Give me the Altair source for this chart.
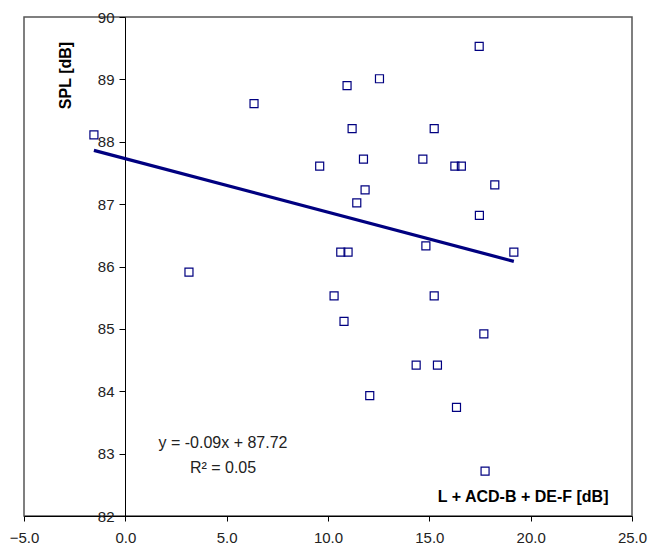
import altair as alt
import pandas as pd

x_vals = [-1.55, 6.35, 3.14, 9.59, 17.46, 12.54, 10.94, 11.19, 15.24, 11.75,
          14.68, 16.26, 16.58, 18.23, 11.83, 11.42, 17.47, 10.63, 10.99, 14.83,
          19.17, 10.30, 15.24, 10.79, 17.69, 14.35, 15.40, 12.06, 16.34, 17.75]
y_vals = [88.11, 88.61, 85.91, 87.61, 89.53, 89.01, 88.90, 88.21, 88.21, 87.72,
          87.72, 87.61, 87.61, 87.31, 87.23, 87.02, 86.82, 86.23, 86.23, 86.33,
          86.23, 85.53, 85.53, 85.12, 84.92, 84.42, 84.42, 83.93, 83.74, 82.72]

eq_text = ["y = -0.09x  + 87.72", "R² = 0.05"]
eq_x = [4.82, 4.82]
eq_y = [83.17, 82.77]

df = pd.DataFrame({"x": x_vals, "y": y_vals})
eq_df = pd.DataFrame({"t": eq_text, "x": eq_x, "y": eq_y})

FONT = "Liberation Sans"
NAVY = "#000080"

xscale = alt.Scale(domain=[-5, 25], nice=False, zero=False)
yscale = alt.Scale(domain=[82, 90], nice=False, zero=False)

xaxis = alt.Axis(values=[-5, 0, 5, 10, 15, 20, 25], format=".1f",
                 title="L + ACD-B + DE-F [dB]", titleFont=FONT, titleFontSize=16,
                 titleFontWeight="bold", titleColor="black",
                 titleX=584, titleY=-20, titleAlign="right", titleBaseline="middle",
                 labelFont=FONT, labelFontSize=15, labelColor="#222222",
                 labelPadding=9, tickSize=5, tickColor="black", domainColor="black",
                 grid=False, labelFlush=False, labelOverlap=False)
yaxis = alt.Axis(values=[82, 83, 84, 85, 86, 87, 88, 89, 90], format="d",
                 offset=-101,
                 title="SPL [dB]", titleFont=FONT, titleFontSize=16,
                 titleFontWeight="bold", titleColor="black",
                 titleX=-60, titleY=58, titleAlign="center", titleBaseline="middle",
                 labelFont=FONT, labelFontSize=15, labelColor="#222222",
                 labelPadding=5, tickSize=6, tickColor="black", domainColor="black",
                 grid=False, labelFlush=False, labelOverlap=False)

points = alt.Chart(df).mark_point(shape="square", filled=False, size=64,
                                  color=NAVY, strokeWidth=1.2, opacity=1).encode(
    x=alt.X("x:Q", scale=xscale, axis=xaxis),
    y=alt.Y("y:Q", scale=yscale, axis=yaxis),
)

trend = alt.Chart(df).transform_regression("x", "y").mark_line(
    color=NAVY, strokeWidth=3.2).encode(
    x=alt.X("x:Q", scale=xscale),
    y=alt.Y("y:Q", scale=yscale),
)

eq = alt.Chart(eq_df).mark_text(font=FONT, fontSize=16, color="#222222",
                                align="center", baseline="middle").encode(
    x=alt.X("x:Q", scale=xscale),
    y=alt.Y("y:Q", scale=yscale),
    text="t:N",
)

chart = alt.layer(trend, points, eq).properties(
    width=608, height=499,
    autosize=alt.AutoSizeParams(type="none"),
    padding={"left": 24, "top": 17, "right": 16, "bottom": 33},
    background="white",
).configure_view(stroke="#555555", strokeWidth=1.5)

chart.save("out.html", embed_options={"renderer": "svg", "actions": False})
